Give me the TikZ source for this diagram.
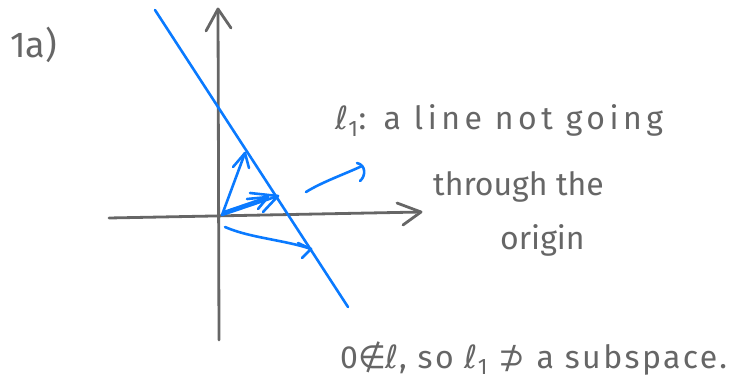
\documentclass[tikz,border=0pt]{standalone}
\usepackage{fontspec}
\setmainfont{Fira Sans}
\newfontfamily\symfont{DejaVu Sans}
\definecolor{penblue}{HTML}{0A7AFF}
\definecolor{pengray}{HTML}{666666}
\begin{document}
\begin{tikzpicture}[x=1pt,y=-1pt,
  axis/.style={draw=pengray,line width=2.8pt,line cap=round,line join=round},
  blue/.style={draw=penblue,line width=2.6pt,line cap=round,line join=round},
  hand/.style={text=pengray,inner sep=0pt,anchor=base west,font=\fontsize{32}{36}\selectfont}]
\useasboundingbox (0,0) rectangle (736,387);
% axes
\coordinate (ytop) at (218,9);
\coordinate (ybot) at (219,340);
\coordinate (xl) at (109,218);
\coordinate (xr) at (421,212);
\draw[axis] (ybot) -- (ytop);
\draw[axis] (206,31) -- (ytop) -- (231,28);
\draw[axis] (xl) -- (xr);
\draw[axis] (397,203) -- (xr) -- (403,225);
% blue line
\coordinate (la) at (155,10);
\coordinate (lb) at (348,307);
\draw[blue] (la) -- (lb);
% vectors
\coordinate (o) at (222,215);
\coordinate (v1) at (245,153);
\draw[blue] (o) -- (v1);
\draw[blue] (233,167) -- (v1) -- (249,168);
\coordinate (v2) at (278,196);
\coordinate (v2b) at (268,197);
\draw[blue] (o) -- (v2);
\draw[blue] (224,212) -- (v2b);
\draw[blue] (250,193) -- (v2) -- (263,212);
\draw[blue] (247,199) -- (v2b) -- (258,209);
\coordinate (v3s) at (225,227);
\coordinate (v3) at (311,249);
\draw[blue] (v3s) .. controls (250,238) and (285,240) .. (v3);
\draw[blue] (298,243) -- (v3) -- (302,258);
\coordinate (v4s) at (306,192);
\coordinate (v4) at (362,166);
\draw[blue] (v4s) .. controls (322,182) and (345,174) .. (v4);
\draw[blue] (357,163) .. controls (366,165) and (366,176) .. (360,181);
% texts
\node[hand,font=\fontsize{36}{40}\selectfont] (lab) at (10,58) {1a)};
\node[hand,font=\fontsize{32}{36}\selectfont\addfontfeature{LetterSpace=14}] (t1) at (335,130) {{\symfont ℓ}\textsubscript{1}: a line not going};
\node[hand] (t2) at (433,196) {through the};
\node[hand] (t3) at (500,250) {origin};
\node[hand,font=\fontsize{32}{36}\selectfont\addfontfeature{LetterSpace=7.5}] (t4) at (340,368) {0{\symfont ∉ℓ}, so {\symfont ℓ}\textsubscript{1} {\symfont ⊅} a subspace.};
\end{tikzpicture}
\end{document}
